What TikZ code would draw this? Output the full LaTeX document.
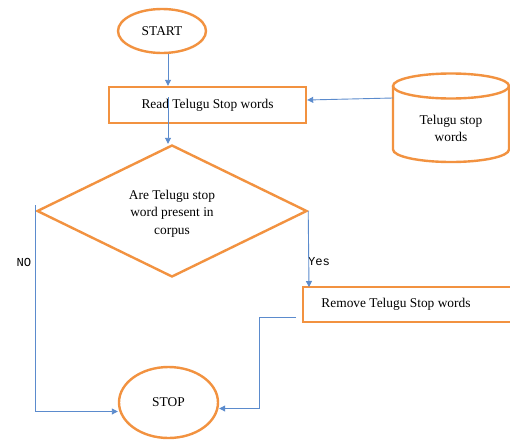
\documentclass[tikz,border=0pt]{standalone}
\usepackage{fontspec}
\setmainfont{Liberation Serif}
\setmonofont{Liberation Mono}
\usetikzlibrary{shapes.geometric,arrows.meta}
\definecolor{flowor}{RGB}{242,146,64}
\definecolor{flowbl}{RGB}{91,139,205}
\begin{document}
\begin{tikzpicture}[x=1pt,y=-1pt,
  every node/.style={font=\fontsize{13.4pt}{17.5pt}\selectfont, inner sep=0pt},
  outl/.style={draw=flowor, line width=2.4pt},
  terminal/.style={outl, ellipse},
  procbox/.style={outl, rectangle},
  decision/.style={outl, diamond, align=center},
  conn/.style={draw=flowbl, line width=0.9pt, -{Triangle[length=6pt,width=6pt]}},
  lbl/.style={font=\ttfamily\fontsize{12.2pt}{14pt}\selectfont}]
\useasboundingbox (0,0) rectangle (510,439);
\fill[white] (0,0) rectangle (510,439);

% nodes
\node[terminal, minimum width=88pt, minimum height=44pt] (start) at (162,31) {START};
\node[procbox, minimum width=197pt, minimum height=36pt] (read) at (207.5,105) {Read Telugu Stop words};

% cylinder (database)
\draw[outl, fill=white] (393,86) -- (393,149.5)
   arc[start angle=180, end angle=360, x radius=58pt, y radius=12.5pt] -- (509,86);
\draw[outl] (451,86) ellipse [x radius=58pt, y radius=12.5pt];
\node[align=center] (db) at (451,128.5) {Telugu stop\\words};
\coordinate (dbin) at (393,98);

\node[decision, minimum width=270pt, minimum height=132pt] (dec) at (172,211) {};
\node[align=center] (dectext) at (172,213.5) {Are Telugu stop\\word present in\\corpus};

% remove box (open at the right, cut by the page edge)
\draw[outl] (515,287) -- (303,287) -- (303,322) -- (515,322);
\node (remove) at (396,304.5) {Remove Telugu Stop words};
\coordinate (remtop) at (309,287);
\coordinate (remfrom) at (296,317);
\coordinate (turn) at (259,317);

\node[terminal, minimum width=99pt, minimum height=71pt] (stop) at (168.5,402.5) {STOP};

% labels
\node[lbl] (no) at (24,262) {NO};
\node[lbl] (yes) at (319,262) {Yes};

% connectors
\draw[conn] ([xshift=6pt]start.south) -- ([xshift=6pt]start.south |- read.north);
\draw[conn] ([xshift=-39.5pt,yshift=8pt]read.center) -- ([xshift=-39.5pt]read.center |- dec.north);
\draw[conn] (dbin) -- ([yshift=5pt]read.east);
\draw[conn] (dec.east) -- (remtop);
\draw[conn] (remfrom) -- (turn) |- ([yshift=-6pt]stop.east);
\draw[conn] ([yshift=6pt]dec.west) |- ([yshift=-9pt]stop.west);
\end{tikzpicture}
\end{document}
